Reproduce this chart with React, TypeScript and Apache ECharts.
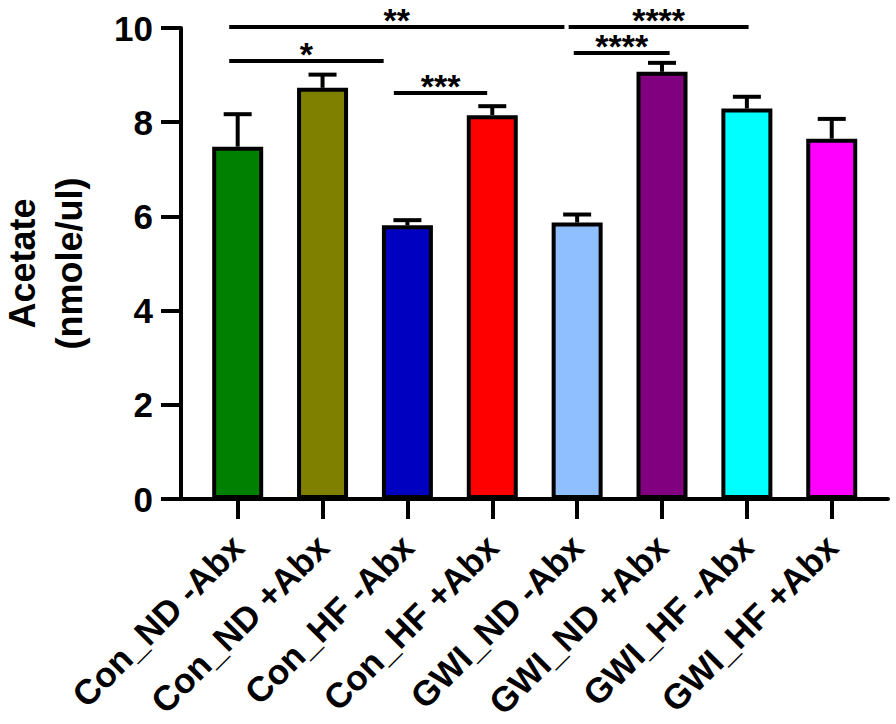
import React, { useEffect, useRef } from "react";
import * as echarts from "echarts";

const categories = [
  "Con_ND -Abx",
  "Con_ND +Abx",
  "Con_HF -Abx",
  "Con_HF +Abx",
  "GWI_ND -Abx",
  "GWI_ND +Abx",
  "GWI_HF -Abx",
  "GWI_HF +Abx",
];
const means = [7.48, 8.73, 5.81, 8.15, 5.87, 9.07, 8.29, 7.65];
const errUpper = [8.17, 9.01, 5.92, 8.34, 6.04, 9.26, 8.54, 8.07];
const barColors = ["#008000", "#808000", "#0000C0", "#FF0000", "#8FBFFF", "#800080", "#00FFFF", "#FF00FF"];

const sigLabels = ["**", "*", "***", "****", "****"];
const sigStart = [-0.1, -0.1, 1.84, 3.9, 3.96];
const sigEnd = [3.85, 1.72, 2.94, 6.02, 5.09];
const sigY = [10.02, 9.3, 8.62, 10.02, 9.47];

const yMin = 0;
const yMax = 10;
const yInterval = 2;

const FONT = "'Liberation Sans', Arial, Helvetica, sans-serif";

export default function App() {
  const ref = useRef<HTMLDivElement>(null);

  useEffect(() => {
    if (!ref.current) return;
    const chart = echarts.init(ref.current, undefined, { renderer: "svg" });
    const idx = categories.map((_, i) => i);

    const option: any = {
      animation: false,
      backgroundColor: "#ffffff",
      grid: { left: 181, right: 8, top: 28, bottom: 225, containLabel: false, outerBoundsMode: "none" },
      xAxis: {
        type: "value",
        min: -0.668,
        max: 7.663,
        splitLine: { show: false },
        axisLine: { show: true, onZero: false, lineStyle: { color: "#000", width: 4 } },
        axisTick: {
          show: true,
          length: 20,
          lineStyle: { color: "#000", width: 4 },
          customValues: idx,
        },
        axisLabel: {
          show: true,
          customValues: idx,
          formatter: (v: number) => categories[Math.round(v)] ?? "",
          rotate: 45,
          margin: 42,
          color: "#000",
          fontSize: 35,
          fontWeight: "bold",
          fontFamily: FONT,
        },
      },
      yAxis: {
        type: "value",
        min: yMin,
        max: yMax,
        interval: yInterval,
        splitLine: { show: false },
        axisLine: { show: true, onZero: false, lineStyle: { color: "#000", width: 4 } },
        axisTick: { show: true, length: 20, lineStyle: { color: "#000", width: 4 } },
        axisLabel: {
          color: "#000",
          fontSize: 35,
          fontWeight: "bold",
          fontFamily: FONT,
          margin: 28,
        },
        name: "Acetate\n(nmole/ul)",
        nameLocation: "middle",
        nameGap: 88,
        nameTextStyle: {
          color: "#000",
          fontSize: 36,
          fontWeight: "bold",
          fontFamily: FONT,
          lineHeight: 47,
        },
      },
      series: [
        {
          type: "bar",
          barWidth: 51,
          z: 3,
          data: means.map((m, i) => ({
            value: [i, m],
            itemStyle: { color: barColors[i], borderColor: "#000", borderWidth: 4 },
          })),
        },
        {
          type: "custom",
          z: 2,
          data: means.map((m, i) => [i, m, errUpper[i]]),
          renderItem: (params: any, api: any) => {
            const x = api.value(0);
            const lo = api.coord([x, api.value(1)]);
            const hi = api.coord([x, api.value(2)]);
            const cap = 14;
            return {
              type: "group",
              children: [
                {
                  type: "line",
                  shape: { x1: lo[0], y1: lo[1], x2: hi[0], y2: hi[1] },
                  style: { stroke: "#000", lineWidth: 4 },
                },
                {
                  type: "line",
                  shape: { x1: hi[0] - cap, y1: hi[1], x2: hi[0] + cap, y2: hi[1] },
                  style: { stroke: "#000", lineWidth: 4 },
                },
              ],
            };
          },
        },
        {
          type: "custom",
          z: 4,
          clip: false,
          data: sigLabels.map((s, i) => [sigStart[i], sigEnd[i], sigY[i], i]),
          renderItem: (params: any, api: any) => {
            const a = api.coord([api.value(0), api.value(2)]);
            const b = api.coord([api.value(1), api.value(2)]);
            const label = sigLabels[api.value(3)];
            return {
              type: "group",
              children: [
                {
                  type: "line",
                  shape: { x1: a[0], y1: a[1], x2: b[0], y2: b[1] },
                  style: { stroke: "#000", lineWidth: 4 },
                },
                {
                  type: "text",
                  x: (a[0] + b[0]) / 2,
                  y: a[1] - 7,
                  style: {
                    text: label,
                    fill: "#000",
                    fontSize: 34,
                    fontWeight: "bold",
                    fontFamily: FONT,
                    align: "center",
                    verticalAlign: "middle",
                    lineHeight: 24,
                  },
                },
              ],
            };
          },
        },
      ],
    };

    chart.setOption(option);
    return () => chart.dispose();
  }, []);

  return (
    <div
      ref={ref}
      style={{ position: "fixed", left: 0, top: 0, width: 896, height: 724, background: "#fff" }}
    />
  );
}
